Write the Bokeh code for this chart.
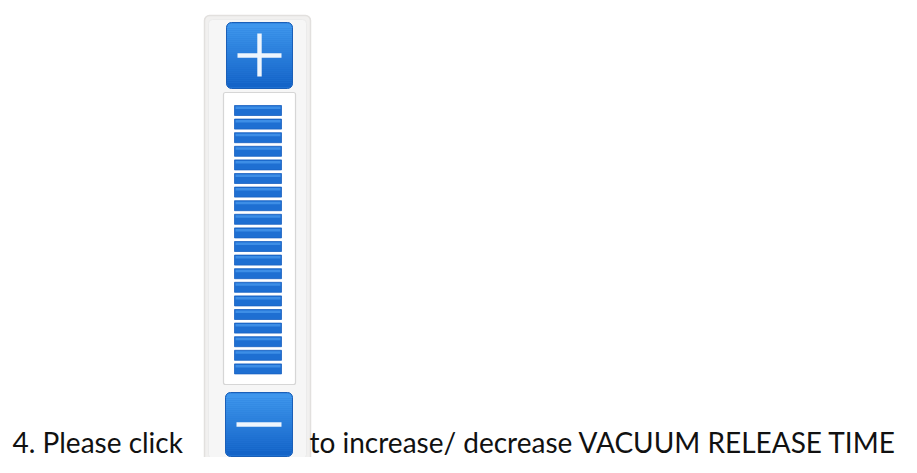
from bokeh.plotting import figure
from bokeh.models import Range1d
from bokeh.core.properties import value
from bokeh.embed import file_html
from bokeh.resources import INLINE

# ---------------- content ----------------
caption_parts = ["4. Please click", "to increase/ decrease VACUUM RELEASE TIME"]
caption_x = [12, 309]
caption_middle = 441

# the level indicator: 20 filled steps
bar_levels = [1, 2, 3, 4, 5, 6, 7, 8, 9, 10, 11, 12, 13, 14, 15, 16, 17, 18, 19, 20]

# ---------------- layout (screen pixel coordinates) ----------------
panel_box = [204, 310, 15, 462]      # left, right, top, bottom
inner_box = [223, 295, 92, 384]
plus_box = [226, 292, 22, 88]
minus_box = [225, 292, 392, 456]
bar_x = [234, 281]
bar_first_top = 105
bar_pitch = 13.6
bar_height = 10

BTN_TOP = (62, 150, 236)
BTN_BOT = (20, 100, 200)

W, H = 901, 457
p = figure(width=W, height=H, output_backend="svg", toolbar_location=None,
           x_range=Range1d(0, W), y_range=Range1d(H, 0),
           min_border=0, background_fill_color="white", border_fill_color="white")
p.axis.visible = False
p.grid.visible = False
p.outline_line_color = None


def hexc(c):
    return "#%02x%02x%02x" % tuple(int(round(v)) for v in c)


def lerp(a, b, t):
    return tuple(a[i] + (b[i] - a[i]) * t for i in range(3))


# outer panel
l, r, t, b = panel_box
p.quad(left=[l], right=[r], top=[t], bottom=[b], fill_color="#f1f0ef",
       line_color="#e2e0de", line_width=1.5, border_radius=5)
p.quad(left=[l + 4], right=[r - 4], top=[t + 4], bottom=[b - 4], fill_color="#f6f6f6",
       line_color="#ebebeb", line_width=1, border_radius=4)

# inner white track
l, r, t, b = inner_box
p.quad(left=[l], right=[r], top=[t], bottom=[b], fill_color="white",
       line_color="#d6d6d6", line_width=1.2, border_radius=2)


def button(box, sign):
    l, r, t, b = box
    p.quad(left=[l], right=[r], top=[t], bottom=[b], fill_color=hexc(lerp(BTN_TOP, BTN_BOT, 0.5)),
           line_color=None, border_radius=5)
    n = int((b - t - 8) / 2)
    lefts, rights, tops, bots, cols = [], [], [], [], []
    for i in range(n):
        y0 = t + 4 + i * 2
        lefts.append(l); rights.append(r); tops.append(y0); bots.append(y0 + 2)
        cols.append(hexc(lerp(BTN_TOP, BTN_BOT, i / max(n - 1, 1))))
    p.quad(left=lefts, right=rights, top=tops, bottom=bots, fill_color=cols, line_color=None)
    p.quad(left=[l + 1], right=[r - 1], top=[t + 1], bottom=[t + 5], fill_color=hexc(BTN_TOP),
           line_color=None, border_radius=4)
    p.quad(left=[l + 1], right=[r - 1], top=[b - 5], bottom=[b - 1], fill_color=hexc(BTN_BOT),
           line_color=None, border_radius=4)
    p.quad(left=[l], right=[r], top=[t], bottom=[b], fill_color=None,
           line_color="#1a5fb8", line_width=1, border_radius=5)
    cx = (l + r) / 2
    cy = (t + b) / 2
    p.quad(left=[l + 11], right=[r - 11], top=[cy - 2.2], bottom=[cy + 2.2],
           fill_color="#eef5fd", line_color=None)
    if sign == "+":
        p.quad(left=[cx - 2.2], right=[cx + 2.2], top=[t + 11], bottom=[b - 12],
               fill_color="#eef5fd", line_color=None)


button(plus_box, "+")
button(minus_box, "-")

# level bars
tops = [bar_first_top + (lv - 1) * bar_pitch for lv in bar_levels]
bots = [tp + bar_height for tp in tops]
p.quad(left=bar_x[0], right=bar_x[1], top=tops, bottom=bots,
       fill_color="#1e6fd2", line_color="#1a62c0", line_width=0.8)
p.quad(left=bar_x[0] + 1, right=bar_x[1] - 1, top=[tp + 1 for tp in tops], bottom=[tp + 3.5 for tp in tops],
       fill_color="#3d8ee6", line_color=None)

# caption
p.text(x=caption_x, y=[caption_middle] * 2, text=caption_parts,
       text_font=value("Lato"), text_font_size="28px", text_color="#111111",
       text_baseline="middle", text_align="left")

open("out.html", "w").write(file_html(p, INLINE))
